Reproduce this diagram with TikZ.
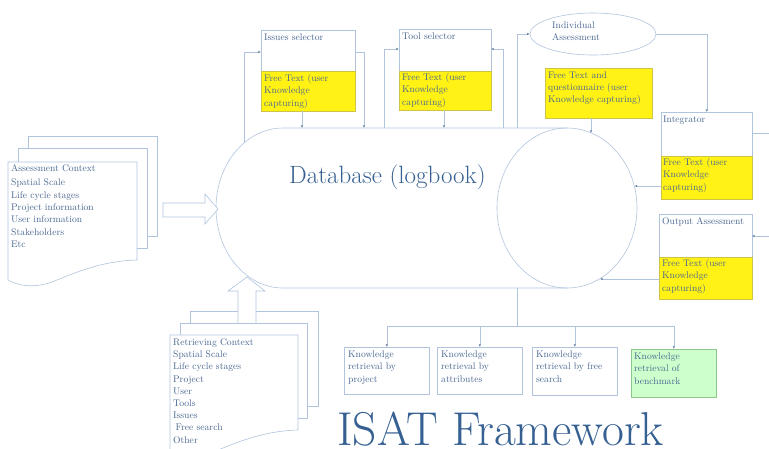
\documentclass[tikz,border=0pt]{standalone}
\usetikzlibrary{arrows.meta,shapes.geometric}
\definecolor{ln}{RGB}{176,196,222}
\definecolor{tx}{RGB}{72,102,145}
\definecolor{ttl}{RGB}{54,96,146}
\definecolor{yel}{RGB}{255,242,20}
\definecolor{yelb}{RGB}{205,195,70}
\definecolor{grn}{RGB}{204,255,204}
\definecolor{grnb}{RGB}{140,200,140}
\begin{document}
\begin{tikzpicture}[x=1pt,y=1pt,
  conn/.style={draw=ln, line width=0.6pt},
  arr/.style={conn, -{Latex[length=2.6pt,width=2.4pt,color=tx!80]}},
  pane/.style={draw=ln, fill=white, line width=0.6pt, inner sep=0, anchor=north west},
  ybox/.style={draw=yelb, fill=yel, line width=0.6pt, inner sep=0, anchor=north west},
  gbox/.style={draw=grnb, fill=grn, line width=0.6pt, inner sep=0, anchor=north west},
  lbl/.style={text=tx, font=\fontsize{9.6}{12.5}\selectfont, align=left, inner sep=0, anchor=north west},
  big/.style={text=ttl, inner sep=0, anchor=base west},
]
\useasboundingbox (0,0) rectangle (769,-448);
\clip (0,0) rectangle (769,-448);

% ---------- database ----------
\draw[conn] (567,-128) -- (283,-128) arc[start angle=90,end angle=270,x radius=67,y radius=80] -- (567,-288);
\node[draw=ln, line width=0.6pt, ellipse, minimum width=140pt, minimum height=160pt, inner sep=0] (dbR) at (567,-208) {};
\node[big, font=\fontsize{25}{30}\selectfont] (dbT) at (289,-183.5) {Database (logbook)};

% ---------- assessment context stack ----------
\draw[conn, fill=white] (28,-136) rectangle (157,-236);
\draw[conn, fill=white] (18,-148) rectangle (147,-248);
\draw[conn, fill=white] (8,-280) -- (8,-162) -- (137,-162) -- (137,-260)
  .. controls (102,-261) and (77,-272) .. (52,-282)
  .. controls (32,-289) and (17,-285) .. (8,-280) -- cycle;
\node[lbl, font=\fontsize{9.6}{12.3}\selectfont] (ac) at (11,-164) {Assessment Context\\[2.5pt]Spatial Scale\\Life cycle stages\\Project information\\User information\\Stakeholders\\Etc};
\draw[conn, fill=white] (163,-203) -- (205,-203) -- (205,-194) -- (218,-209) -- (205,-224) -- (205,-217) -- (163,-217) -- cycle;

% ---------- retrieving context stack ----------
\draw[conn, fill=white] (190,-311) rectangle (318,-406);
\draw[conn, fill=white] (238,-326) -- (238,-291) -- (228,-291) -- (247,-277) -- (265,-291) -- (256,-291) -- (256,-326) -- cycle;
\draw[conn, fill=white] (180,-323) rectangle (307,-418);
\draw[conn, fill=white] (170,-460) -- (170,-335) -- (298,-335) -- (298,-430)
  .. controls (263,-431) and (238,-442) .. (213,-452)
  .. controls (193,-459) and (178,-455) .. (170,-450) -- cycle;
\node[lbl, font=\fontsize{9.6}{12.2}\selectfont] (rc) at (173,-338.5) {Retrieving Context\\Spatial Scale\\Life cycle stages\\Project\\User\\Tools\\Issues\\\hspace{2.5pt}Free search\\Other};

% ---------- issues selector ----------
\node[pane, minimum width=94pt, minimum height=81pt] (iss) at (261,-30) {};
\node[ybox, minimum width=94pt, minimum height=40pt] (issY) at (261,-71) {};
\node[lbl] (issT) at (264,-34) {Issues selector};
\node[lbl] (issYT) at (264,-74) {Free Text (user\\Knowledge\\capturing)};

% ---------- tool selector ----------
\node[pane, minimum width=92pt, minimum height=81pt] (tool) at (399,-29) {};
\node[ybox, minimum width=92pt, minimum height=39pt] (toolY) at (399,-71) {};
\node[lbl] (toolT) at (402,-33) {Tool selector};
\node[lbl] (toolYT) at (402,-73) {Free Text (user\\Knowledge\\capturing)};

% ---------- individual assessment ----------
\node[draw=ln, line width=0.6pt, ellipse, minimum width=126pt, minimum height=42pt, inner sep=0] (ind) at (593,-34) {};
\node[lbl, font=\fontsize{9.6}{11.5}\selectfont] (indT) at (552,-22) {Individual\\Assessment};
\node[ybox, minimum width=107pt, minimum height=50pt] (fq) at (545,-68) {};
\node[lbl, font=\fontsize{9.6}{12}\selectfont] (fqT) at (548,-72) {Free Text and\\questionnaire (user\\Knowledge capturing)};

% ---------- integrator ----------
\node[pane, minimum width=91pt, minimum height=87pt] (int) at (661,-112) {};
\node[ybox, minimum width=91pt, minimum height=43pt] (intY) at (661,-156) {};
\node[lbl] (intT) at (663,-115.5) {Integrator};
\node[lbl] (intYT) at (663,-158) {Free Text (user\\Knowledge\\capturing)};

% ---------- output assessment ----------
\node[pane, minimum width=93pt, minimum height=85pt] (out) at (659,-214) {};
\node[ybox, minimum width=93pt, minimum height=42pt] (outY) at (659,-257) {};
\node[lbl] (outT) at (662,-217.5) {Output Assessment};
\node[lbl] (outYT) at (662,-259) {Free Text (user\\Knowledge\\capturing)};

% ---------- knowledge retrieval ----------
\node[pane, minimum width=85pt, minimum height=47pt] (k1) at (344,-347) {};
\node[pane, minimum width=85pt, minimum height=47pt] (k2) at (437,-347) {};
\node[pane, minimum width=85pt, minimum height=48pt] (k3) at (532,-347) {};
\node[gbox, minimum width=85pt, minimum height=48pt] (k4) at (631,-349) {};
\node[lbl] (k1T) at (348,-350.5) {Knowledge\\retrieval by\\project};
\node[lbl] (k2T) at (441,-350.5) {Knowledge\\retrieval by\\attributes};
\node[lbl] (k3T) at (536,-350.5) {Knowledge\\retrieval by free\\search};
\node[lbl] (k4T) at (634,-352.5) {Knowledge\\retrieval of\\benchmark};

% ---------- title ----------
\node[big, font=\fontsize{47.5}{52}\selectfont] (title) at (337,-445.5) {ISAT Framework};

% ---------- connectors ----------
\coordinate (dbA) at (244,-143);
\coordinate (issL) at (261,-52);
\coordinate (issR) at (355,-52);
\coordinate (dbB) at (364,-128);
\coordinate (issB) at (302,-111);
\coordinate (dbC) at (302,-128);
\coordinate (dbD) at (384,-128);
\coordinate (toolL) at (399,-49);
\coordinate (dbE) at (503,-128);
\coordinate (toolR) at (491,-49);
\coordinate (toolB) at (444,-110);
\coordinate (dbF) at (444,-128);
\coordinate (dbG) at (517,-128);
\coordinate (fqB) at (591,-118);
\coordinate (dbH) at (591,-132.9);
\coordinate (intR) at (752,-133);
\coordinate (edgeA) at (769,-133);
\coordinate (intL) at (661,-186);
\coordinate (dbI) at (634.5,-186);
\coordinate (outR) at (752,-236);
\coordinate (edgeB) at (769,-236);
\coordinate (outL) at (659,-279);
\coordinate (dbJ) at (600,-279);
\coordinate (dbK) at (517,-288);
\coordinate (bj) at (517,-326);

\draw[arr] (dbA) |- (issL);
\draw[arr] (issR) -| (dbB);
\draw[arr] (issB) -- (dbC);
\draw[arr] (dbD) |- (toolL);
\draw[arr] (dbE) |- (toolR);
\draw[arr] (toolB) -- (dbF);
\draw[arr] (dbG) |- (ind.west);
\draw[arr] (ind.east) -| (int.north);
\draw[arr] (fqB) -- (dbH);
\draw[conn] (intR) -- (edgeA);
\draw[arr] (intL) -- (dbI);
\draw[arr] (edgeB) -- (outR);
\draw[arr] (outL) -- (dbJ);
\draw[conn] (dbK) -- (bj);
\draw[arr] (bj) -| (k1.north);
\draw[arr] (bj) -| (k2.north);
\draw[arr] (bj) -| (k3.north);
\draw[arr] (bj) -| (k4.north);
\end{tikzpicture}
\end{document}
